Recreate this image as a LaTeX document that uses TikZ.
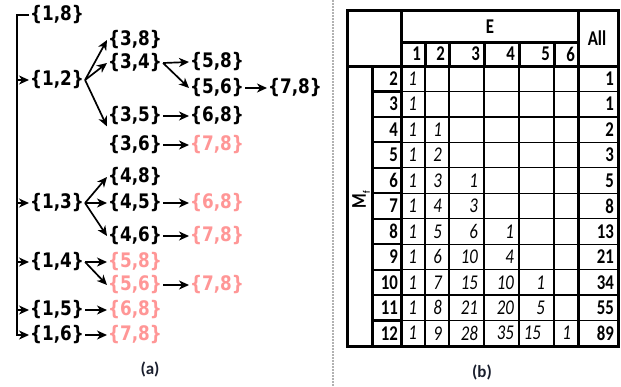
\documentclass[tikz,border=0pt]{standalone}
\usepackage{fontspec}
\setmainfont{Carlito}
\newfontfamily\treefont[FakeStretch=0.84]{DejaVu Sans}
\newfontfamily\tabfont[FakeStretch=0.8]{Carlito}
\usetikzlibrary{arrows.meta}
\definecolor{fadedpink}{RGB}{255,150,150}
\definecolor{captionnavy}{RGB}{25,30,45}

\begin{document}
\begin{tikzpicture}[
      x=1pt, y=-1pt,
      set/.style={anchor=west, inner sep=1pt, font=\treefont\bfseries\fontsize{20}{20}\selectfont},
      gone/.style={set, text=fadedpink},
      link/.style={-{Stealth[length=10pt,width=9pt,inset=3pt]}, line width=1.7pt},
      cell/.style={anchor=east, inner sep=0pt, font=\tabfont\itshape\fontsize{21}{21}\selectfont},
      head/.style={anchor=east, inner sep=0pt, font=\tabfont\bfseries\fontsize{21}{21}\selectfont},
      heavy/.style={line width=3pt},
      mid/.style={line width=2.2pt},
      fine/.style={line width=1.2pt},
      caption/.style={font=\bfseries\fontsize{17}{17}\selectfont, text=captionnavy}
    ]
\useasboundingbox (0,0) rectangle (621,386);

% Nodes
      \node[set] (n18) at (29,15) {\{1,8\}};
      \node[set] (n12) at (29,80) {\{1,2\}};
      \node[set] (n13) at (29,203) {\{1,3\}};
      \node[set] (n14) at (29,262) {\{1,4\}};
      \node[set] (n15) at (29,310) {\{1,5\}};
      \node[set] (n16) at (29,335) {\{1,6\}};

      \node[set] (n38) at (107,40) {\{3,8\}};
      \node[set] (n34) at (107,63) {\{3,4\}};
      \node[set] (n35) at (107,116) {\{3,5\}};
      \node[set] (n36) at (107,145) {\{3,6\}};
      \node[set] (n48) at (107,177) {\{4,8\}};
      \node[set] (n45) at (107,203) {\{4,5\}};
      \node[set] (n46) at (107,236) {\{4,6\}};
      \node[gone] (n14-58) at (107,262) {\{5,8\}};
      \node[gone] (n14-56) at (107,285) {\{5,6\}};
      \node[gone] (n15-68) at (107,310) {\{6,8\}};
      \node[gone] (n16-78) at (107,335) {\{7,8\}};

      \node[set] (n58) at (189,62) {\{5,8\}};
      \node[set] (n56) at (189,88) {\{5,6\}};
      \node[set] (n68) at (189,116) {\{6,8\}};
      \node[gone] (n36-78) at (189,145) {\{7,8\}};
      \node[gone] (n45-68) at (189,203) {\{6,8\}};
      \node[gone] (n46-78) at (189,236) {\{7,8\}};
      \node[gone] (n56-78) at (189,285) {\{7,8\}};
      \node[set] (n78) at (267,88) {\{7,8\}};

% Connections
      \coordinate (foot) at (17,335);
      \draw[link] (n18.west) -| (foot) -- (n16.west);
      \foreach \n in {n12,n13,n14,n15}
        \draw[link] (foot |- \n.west) -- (\n.west);

      \draw[link] (n12.east) -- (n38.west);
      \draw[link] (n12.east) -- (n34.west);
      \draw[link] (n12.east) -- (n35.south west);
      \draw[link] (n34.east) -- (n58.west);
      \draw[link] (n34.east) -- (n56.west);
      \draw[link] (n56.east) -- (n78.west);
      \draw[link] (n35.east) -- (n68.west);
      \draw[link] (n36.east) -- (n36-78.west);
      \draw[link] (n13.east) -- (n48.west);
      \draw[link] (n13.east) -- (n45.west);
      \draw[link] (n13.east) -- (n46.west);
      \draw[link] (n45.east) -- (n45-68.west);
      \draw[link] (n46.east) -- (n46-78.west);
      \draw[link] (n14.east) -- (n14-58.west);
      \draw[link] (n14.east) -- (n14-56.west);
      \draw[link] (n14-56.east) -- (n56-78.west);
      \draw[link] (n15.east) -- (n15-68.west);
      \draw[link] (n16.east) -- (n16-78.west);

      \node[caption] (capa) at (150,369) {(a)};

% Separator
      \draw[gray!60, line width=2pt, densely dotted] (333,0) -- (333,386);

% Table grid
      \foreach \k in {1,...,10} {
        \draw[fine] (401,{66+25.45*\k}) -- (618,{66+25.45*\k});
        \draw[mid] (372,{66+25.45*\k}) -- (401,{66+25.45*\k});
      }
      \foreach \x in {425,449,484,519,554} {
        \draw[fine] (\x,66) -- (\x,346);
        \draw[heavy] (\x,42) -- (\x,66);
      }
      \draw[heavy] (347,10) rectangle (618,346);
      \draw[heavy] (401,10) -- (401,346);
      \draw[heavy] (578,10) -- (578,346);
      \draw[heavy] (372,66) -- (372,346);
      \draw[heavy] (347,66) -- (618,66);
      \draw[heavy] (401,42) -- (578,42);

% Table texts
      \node[head, anchor=center] (E) at (490,27) {E};
      \node[head, anchor=center] (all) at (597,38) {All};
      \node[head, anchor=center, rotate=90] (mf) at (361,200)
        {M\raisebox{-4pt}{\fontsize{10}{10}\selectfont f}};
      \foreach \x/\c in {421/1,445/2,480/3,515/4,550/5,575/6}
        \node[head] (e\c) at (\x,54) {\c};
      \foreach \r/\t in {2/1,3/1,4/2,5/3,6/5,7/8,8/13,9/21,10/34,11/55,12/89} {
        \node[head] (lab\r) at (398,{66+25.45*(\r-1.5)}) {\r};
        \node[head] (tot\r) at (614,{66+25.45*(\r-1.5)}) {\t};
      }
      \foreach \r/\x/\v in {2/417/1, 3/417/1, 4/417/1, 4/442/1, 5/417/1, 5/442/2,
          6/417/1, 6/442/3, 6/478/1, 7/417/1, 7/442/4, 7/478/3,
          8/417/1, 8/442/5, 8/478/6, 8/514/1, 9/417/1, 9/442/6, 9/478/10, 9/514/4,
          10/417/1, 10/442/7, 10/478/15, 10/514/10, 10/545/1,
          11/417/1, 11/442/8, 11/478/21, 11/514/20, 11/545/5,
          12/417/1, 12/442/9, 12/478/28, 12/514/35, 12/541/15, 12/571/1}
        \node[cell] (c\r-\x) at (\x,{66+25.45*(\r-1.5)}) {\v};

      \node[caption] (capb) at (482,372) {(b)};

    \end{tikzpicture}
\end{document}
